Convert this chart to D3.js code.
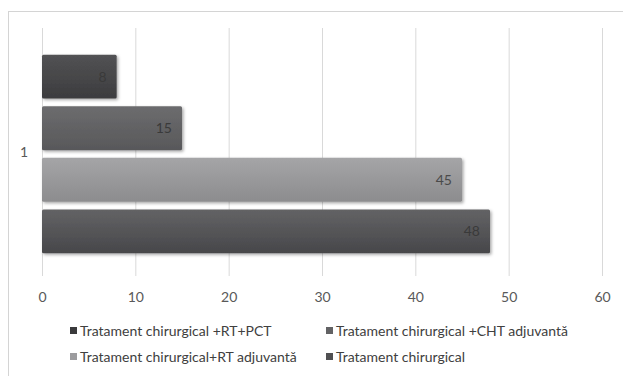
<!DOCTYPE html>
<html>
<head>
<meta charset="utf-8">
<script src="https://cdn.jsdelivr.net/npm/d3@7"></script>
<style>
  html, body { margin: 0; padding: 0; background: #fff; }
  svg { display: block; }
  text { font-family: Lato, "Open Sans", sans-serif; }
</style>
</head>
<body>
<svg id="chart" width="623" height="376"></svg>
<script>
// Treatment groups, one series each, plotted against a single category "1"
const categories = ["1"];
const seriesNames = [
  "Tratament chirurgical +RT+PCT",
  "Tratament chirurgical +CHT adjuvantă",
  "Tratament chirurgical+RT adjuvantă",
  "Tratament chirurgical"
];
const seriesValues = [8, 15, 45, 48];
const xTicks = [0, 10, 20, 30, 40, 50, 60];

// gradient stops per series (top, bottom)
const fills = [
  ["#525254", "#3c3c3e"],
  ["#6c6c6e", "#58585a"],
  ["#a5a5a7", "#8c8c8e"],
  ["#636365", "#47474a"]
];
const legendColors = ["#3a3a3c", "#626264", "#9c9c9e", "#505052"];

const svg = d3.select("#chart");
const W = 623, H = 376;

// frame
svg.append("rect").attr("x", 8.5).attr("y", 11.5).attr("width", W).attr("height", H)
  .attr("fill", "#fff").attr("stroke", "#d4d4d4").attr("stroke-width", 1);

const plot = { left: 42, right: 602, top: 28, bottom: 276 };

const x = d3.scaleLinear().domain([0, 60]).range([plot.left, plot.right]);
const y = d3.scaleBand().domain(categories).range([plot.top + 2, plot.bottom + 2]);
const ySeries = d3.scaleBand().domain(d3.range(seriesValues.length))
  .range([0, y.bandwidth()]).paddingInner(0.15).paddingOuter(0.48);

const defs = svg.append("defs");
fills.forEach((f, i) => {
  const g = defs.append("linearGradient").attr("id", "g" + i)
    .attr("x1", 0).attr("y1", 0).attr("x2", 0).attr("y2", 1);
  g.append("stop").attr("offset", "0%").attr("stop-color", f[0]);
  g.append("stop").attr("offset", "100%").attr("stop-color", f[1]);
});
const sh = defs.append("filter").attr("id", "shadow")
  .attr("x", "-5%").attr("y", "-10%").attr("width", "115%").attr("height", "130%");
sh.append("feDropShadow").attr("dx", 1.5).attr("dy", 1.5).attr("stdDeviation", 1.5)
  .attr("flood-color", "#000").attr("flood-opacity", 0.35);

// vertical gridlines
svg.append("g").selectAll("line").data(xTicks).join("line")
  .attr("x1", d => x(d) + 0.5).attr("x2", d => x(d) + 0.5)
  .attr("y1", plot.top).attr("y2", plot.bottom)
  .attr("stroke", "#d9d9d9").attr("stroke-width", 1);

// x axis labels
const xAxis = d3.axisBottom(x).tickValues(xTicks).tickSize(0).tickPadding(0);
const xg = svg.append("g").attr("transform", `translate(0,${plot.bottom + 26})`).call(xAxis);
xg.select(".domain").remove();
xg.selectAll("text").attr("font-size", 14).attr("fill", "#595959")
  .attr("font-family", "Lato, 'Open Sans', sans-serif").attr("dy", 0);

// category label
svg.append("text").attr("x", 24).attr("y", y(categories[0]) + y.bandwidth() / 2 + 3)
  .attr("text-anchor", "middle").attr("font-size", 14).attr("fill", "#595959").text(categories[0]);

// bars
const y0 = y(categories[0]);
svg.append("g").selectAll("rect").data(seriesValues).join("rect")
  .attr("x", x(0))
  .attr("y", (d, i) => y0 + ySeries(i))
  .attr("width", d => x(d) - x(0))
  .attr("height", ySeries.bandwidth())
  .attr("rx", 1.5)
  .attr("fill", (d, i) => `url(#g${i})`)
  .attr("filter", "url(#shadow)");

// value labels
svg.append("g").selectAll("text").data(seriesValues).join("text")
  .attr("x", d => x(d) - 10)
  .attr("y", (d, i) => y0 + ySeries(i) + ySeries.bandwidth() / 2 + 5)
  .attr("text-anchor", "end").attr("font-size", 14)
  .attr("fill", (d, i) => i === 2 ? "#4a4a4a" : "#3a3a3a")
  .text(d => d);

// legend
const legendPos = [[70, 336], [326, 336], [70, 362], [326, 362]];
const lg = svg.append("g").selectAll("g").data(seriesNames).join("g")
  .attr("transform", (d, i) => `translate(${legendPos[i][0]},${legendPos[i][1]})`);
lg.append("rect").attr("x", 0).attr("y", -9).attr("width", 7).attr("height", 7)
  .attr("fill", (d, i) => legendColors[i]);
lg.append("text").attr("x", 10).attr("y", 0).attr("font-size", 14).attr("fill", "#404040").text(d => d);
</script>
</body>
</html>
